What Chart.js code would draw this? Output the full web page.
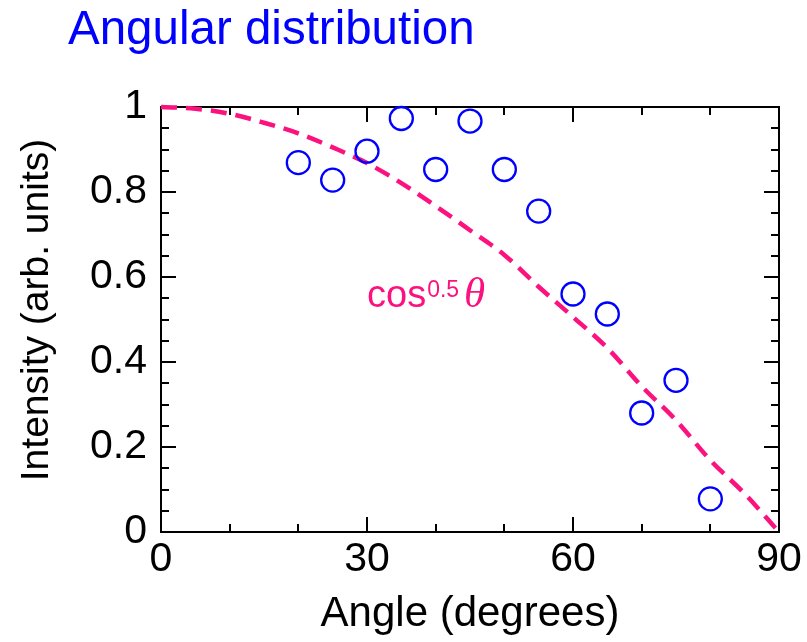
<!DOCTYPE html>
<html><head><meta charset="utf-8">
<script src="https://cdn.jsdelivr.net/npm/chart.js@4/dist/chart.umd.min.js"></script>
<style>html,body{margin:0;padding:0;background:#fff}#wrap{width:807px;height:642px;position:relative}</style>
</head><body><div id="wrap"><canvas id="c" width="807" height="642"></canvas></div>
<script>
const chartTitle = 'Angular distribution';
const xAxisTitle = 'Angle (degrees)';
const yAxisTitle = 'Intensity (arb. units)';

const measuredAngles    = [20, 25, 30, 35, 40, 45, 50, 55, 60, 65, 70, 75, 80];
const measuredIntensity = [0.869, 0.828, 0.896, 0.973, 0.853, 0.967, 0.853, 0.755, 0.560, 0.513, 0.280, 0.357, 0.078];

const curveAngles    = [0, 5, 10, 15, 20, 25, 30, 35, 40, 45, 50, 55, 60, 65, 70, 75, 80, 85, 90];
const curveIntensity = [1.0, 0.996, 0.984, 0.963, 0.938, 0.905, 0.868, 0.821, 0.767, 0.710, 0.652, 0.577, 0.506, 0.433, 0.343, 0.263, 0.169, 0.090, 0.0];

const xMajorTicks = [0, 30, 60, 90];
const xTickLabels = ['0', '30', '60', '90'];
const xMinorTicks = [10, 20, 40, 50, 70, 80];
const yMajorTicks = [0, 0.2, 0.4, 0.6, 0.8, 1];
const yTickLabels = ['0', '0.2', '0.4', '0.6', '0.8', '1'];
const yMinorTicks = [0.05, 0.1, 0.15, 0.25, 0.3, 0.35, 0.45, 0.5, 0.55, 0.65, 0.7, 0.75, 0.85, 0.9, 0.95];

const curveLabelText = ['cos', '0.5', 'θ'];
const curveLabelAt = [30, 0.53];

const BLUE = '#0000ff';
const PINK = '#fc127f';
const SANS = '"Liberation Sans", Arial, sans-serif';

const framePlugin = {
  id: 'frame',
  beforeDatasetsDraw(chart) {
    const {ctx, chartArea: a, scales: {x, y}} = chart;
    ctx.save();
    ctx.strokeStyle = '#000';
    ctx.lineWidth = 2;
    ctx.strokeRect(a.left, a.top, a.right - a.left, a.bottom - a.top);
    ctx.beginPath();
    const tx = (v, len) => {
      const px = Math.round(x.getPixelForValue(v));
      ctx.moveTo(px, a.bottom); ctx.lineTo(px, a.bottom - len);
      ctx.moveTo(px, a.top); ctx.lineTo(px, a.top + len);
    };
    const ty = (v, len) => {
      const py = Math.round(y.getPixelForValue(v));
      ctx.moveTo(a.left, py); ctx.lineTo(a.left + len, py);
      ctx.moveTo(a.right, py); ctx.lineTo(a.right - len, py);
    };
    xMajorTicks.forEach(v => tx(v, 15));
    xMinorTicks.forEach(v => tx(v, 8));
    yMajorTicks.forEach(v => ty(v, 15));
    yMinorTicks.forEach(v => ty(v, 8));
    ctx.stroke();
    ctx.restore();
  },
  afterDatasetsDraw(chart) {
    const {ctx, scales: {x, y}} = chart;
    ctx.save();
    ctx.fillStyle = PINK;
    ctx.textBaseline = 'alphabetic';
    ctx.textAlign = 'left';
    let px = x.getPixelForValue(curveLabelAt[0]);
    const py = y.getPixelForValue(curveLabelAt[1]);
    ctx.font = '38px ' + SANS;
    ctx.fillText(curveLabelText[0], px, py);
    px += ctx.measureText(curveLabelText[0]).width + 1;
    ctx.font = '23px ' + SANS;
    ctx.fillText(curveLabelText[1], px, py - 10);
    px += ctx.measureText(curveLabelText[1]).width + 5;
    ctx.font = 'italic 43px "Liberation Serif", "DejaVu Serif", serif';
    ctx.fillText(curveLabelText[2], px, py);
    ctx.restore();
  },
  afterDraw(chart) {
    const {ctx} = chart;
    ctx.save();
    ctx.fillStyle = BLUE;
    ctx.font = '47.5px ' + SANS;
    ctx.textBaseline = 'alphabetic';
    ctx.textAlign = 'left';
    ctx.fillText(chartTitle, 68, 44);
    // y axis title
    ctx.fillStyle = '#000';
    ctx.font = '39px ' + SANS;
    ctx.textAlign = 'center';
    ctx.textBaseline = 'middle';
    ctx.translate(37, 310);
    ctx.rotate(-Math.PI / 2);
    ctx.fillText(yAxisTitle, 0, 0);
    ctx.restore();
  }
};

new Chart(document.getElementById('c'), {
  type: 'scatter',
  data: {
    datasets: [
      {
        label: 'cos^0.5 θ',
        data: curveAngles.map((a, i) => ({x: a, y: curveIntensity[i]})),
        showLine: true,
        borderColor: PINK,
        borderWidth: 4.5,
        borderDash: [16, 9],
        pointRadius: 0,
        fill: false,
        cubicInterpolationMode: 'monotone',
        clip: 6,
        order: 1
      },
      {
        label: 'Measured',
        data: measuredAngles.map((a, i) => ({x: a, y: measuredIntensity[i]})),
        showLine: false,
        pointStyle: 'circle',
        pointRadius: 11.5,
        pointBorderWidth: 2.3,
        pointBorderColor: BLUE,
        pointBackgroundColor: 'rgba(0,0,0,0)',
        clip: 14,
        order: 0
      }
    ]
  },
  options: {
    responsive: false,
    animation: false,
    devicePixelRatio: 1,
    events: [],
    layout: {padding: {top: 107, right: 28, bottom: 0, left: 0}},
    plugins: {legend: {display: false}, tooltip: {enabled: false}, title: {display: false}},
    scales: {
      x: {
        type: 'linear', min: 0, max: 90,
        afterBuildTicks: s => { s.ticks = xMajorTicks.map(v => ({value: v})); },
        afterFit: s => { s.height = 110; },
        grid: {display: false, drawTicks: false},
        border: {display: false},
        ticks: {
          font: {family: SANS, size: 41}, color: '#000', padding: 3, maxRotation: 0, autoSkip: false,
          callback: v => xTickLabels[xMajorTicks.indexOf(v)]
        },
        title: {display: true, text: xAxisTitle, color: '#000', font: {family: SANS, size: 42}, padding: {top: 0, bottom: 2}}
      },
      y: {
        type: 'linear', min: 0, max: 1,
        afterBuildTicks: s => { s.ticks = yMajorTicks.map(v => ({value: v})); },
        afterFit: s => { s.width = 161; },
        grid: {display: false, drawTicks: false},
        border: {display: false},
        ticks: {
          font: {family: SANS, size: 41}, color: '#000', padding: 14, autoSkip: false,
          callback: v => yTickLabels[yMajorTicks.findIndex(t => Math.abs(t - v) < 1e-9)]
        },
        title: {display: false, text: yAxisTitle}
      }
    }
  },
  plugins: [framePlugin]
});
</script>
</body></html>
